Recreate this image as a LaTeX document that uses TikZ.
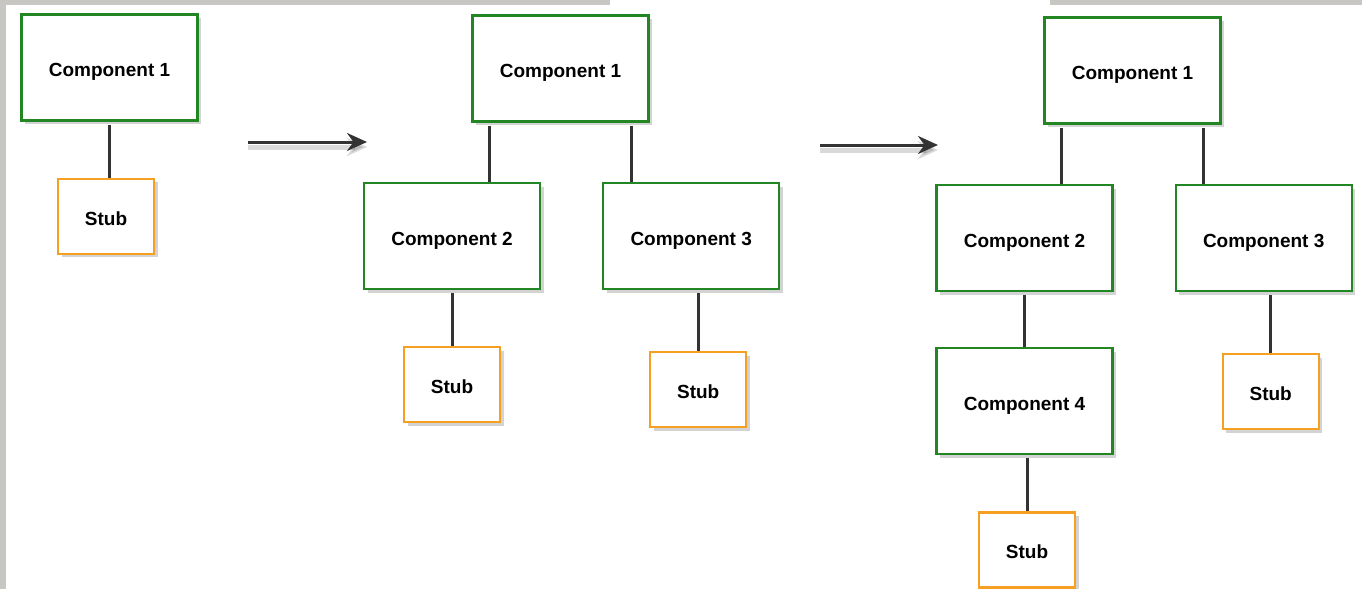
\documentclass[tikz,border=0pt]{standalone}
\usepackage{fontspec}
\setmainfont{Liberation Sans}
\usetikzlibrary{positioning,shadows,arrows.meta}
\definecolor{compgreen}{RGB}{34,134,34}
\definecolor{stuborange}{RGB}{245,160,35}
\definecolor{linegrey}{RGB}{51,51,51}
\definecolor{framegrey}{RGB}{200,198,194}
\tikzset{
    comp/.style={rectangle, minimum width=88pt, minimum height=53pt, draw=compgreen, line width=1.1pt, fill=white, text height=9pt, text depth=0pt, font=\bfseries\fontsize{9.5}{11}\selectfont, drop shadow={shadow xshift=1.8pt, shadow yshift=-1.8pt, opacity=0.35}},
    stub/.style={comp, draw=stuborange, minimum width=48pt, minimum height=37.5pt},
    link/.style={draw=linegrey, line width=1.5pt, shorten <=1.5pt},
    flow/.style={-{Stealth[length=10pt,width=9pt]}, draw=linegrey, line width=1.5pt, preaction={draw=black, opacity=0.15, line width=2.5pt, transform canvas={yshift=-2.5pt}}},
}
\begin{document}
\begin{tikzpicture}
        [x=0.5pt, y=-0.5pt, node distance=28pt]

        % Frame of the screenshot
        \fill[framegrey] (0,0) rectangle (6,589);
        \fill[framegrey] (0,0) rectangle (610,5);
        \fill[framegrey] (1050,0) rectangle (1362,5);
        \useasboundingbox (0,0) rectangle (1362,589);

        % First step
        \node[comp] (a1) at (109.5,67.5) {Component 1};
        \node[stub, below=of a1, xshift=-1.75pt] (a1s) {Stub};

        % Second step
        \node[comp] (b1) at (560.5,68.5) {Component 1};
        \node[comp] (b2) at (452,236) {Component 2};
        \node[comp, right=30.5pt of b2] (b3) {Component 3};
        \node[stub, below=of b2] (b2s) {Stub};
        \node[stub, below=30.5pt of b3, xshift=3.5pt] (b3s) {Stub};

        % Third step
        \node[comp] (c1) at (1132.5,70.5) {Component 1};
        \node[comp] (c2) at (1024.5,238) {Component 2};
        \node[comp, right=30.5pt of c2] (c3) {Component 3};
        \node[comp, below=27.5pt of c2] (c4) {Component 4};
        \node[stub, below=of c4, xshift=1.25pt] (c4s) {Stub};
        \node[stub, below=30.5pt of c3, xshift=3.5pt] (c3s) {Stub};

        % Lines
        \draw[link] (a1.south) -- (a1.south |- a1s.north);
        \draw[link] ([xshift=9pt]b1.south west) -- ([xshift=9pt]b1.south west |- b2.north);
        \draw[link] ([xshift=-9pt]b1.south east) -- ([xshift=-9pt]b1.south east |- b3.north);
        \draw[link] (b2s.north |- b2.south) -- (b2s.north);
        \draw[link] (b3s.north |- b3.south) -- (b3s.north);
        \draw[link] ([xshift=9pt]c1.south west) -- ([xshift=9pt]c1.south west |- c2.north);
        \draw[link] ([xshift=-9pt]c1.south east) -- ([xshift=-9pt]c1.south east |- c3.north);
        \draw[link] (c2.south) -- (c4.north);
        \draw[link] (c4s.north |- c4.south) -- (c4s.north);
        \draw[link] (c3s.north |- c3.south) -- (c3s.north);

        % Steps
        \coordinate (f1s) at (248,142);
        \coordinate (f1e) at (367,142);
        \coordinate (f2s) at (820,145);
        \coordinate (f2e) at (938,145);
        \draw[flow] (f1s) -- (f1e);
        \draw[flow] (f2s) -- (f2e);

    \end{tikzpicture}
\end{document}
